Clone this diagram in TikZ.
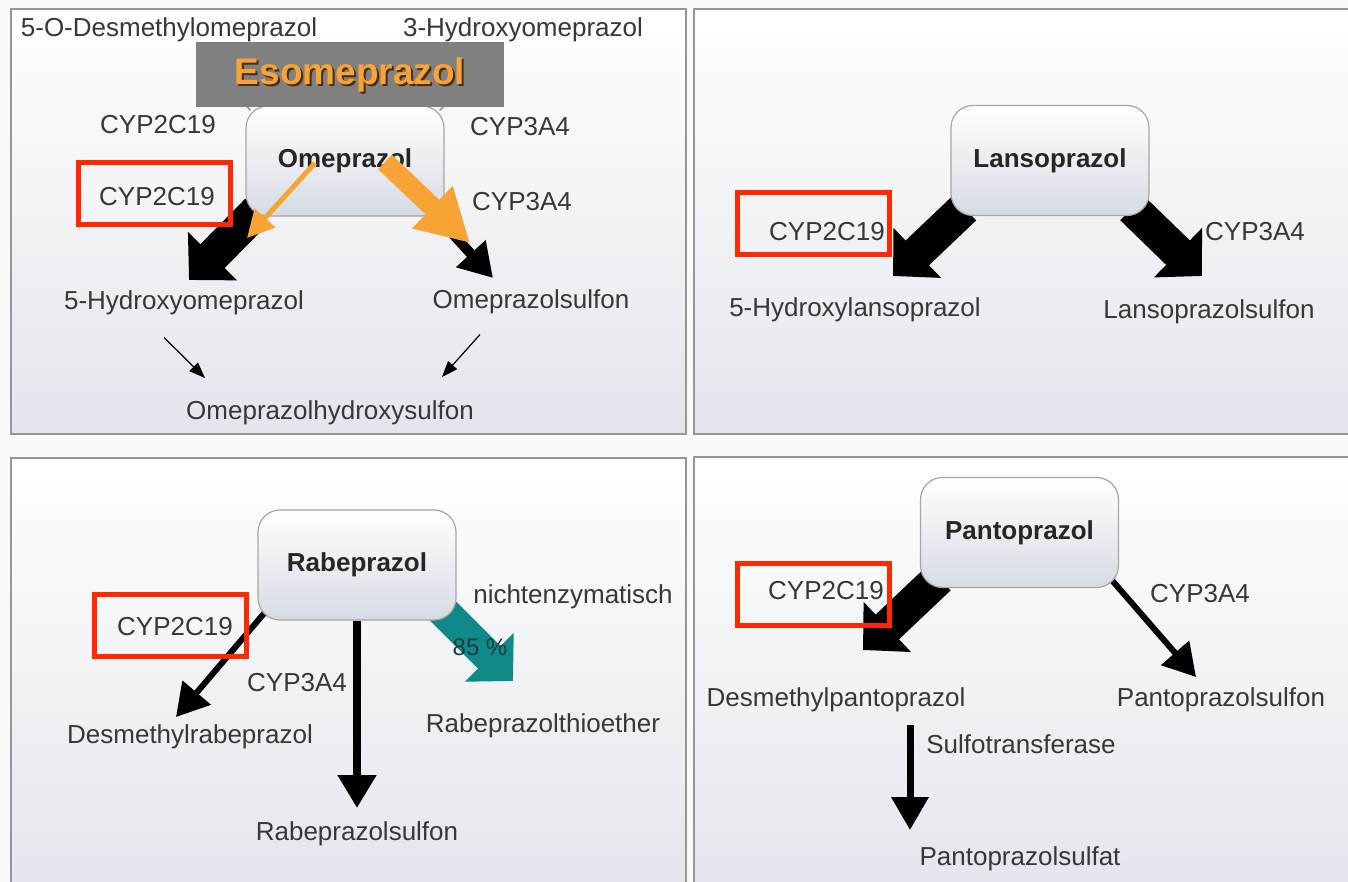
\documentclass[tikz,border=0pt]{standalone}
\usepackage{fontspec}
\setmainfont{Liberation Sans}
\usetikzlibrary{arrows.meta}
\definecolor{pagebg}{RGB}{250,250,250}
\definecolor{panelbot}{RGB}{226,230,236}
\definecolor{panelline}{RGB}{150,150,150}
\definecolor{txtgray}{RGB}{55,55,55}
\definecolor{boxbot}{RGB}{214,219,227}
\definecolor{cypred}{RGB}{255,40,0}
\definecolor{esogray}{RGB}{128,128,128}
\definecolor{esoorange}{RGB}{248,164,52}
\definecolor{esoshadow}{RGB}{70,45,20}
\definecolor{nonenz}{RGB}{16,138,136}
\definecolor{nonenztext}{RGB}{20,60,60}

\pgfdeclarelayer{panels}
\pgfdeclarelayer{under}
\pgfsetlayers{panels,under,main}

\tikzset{
	panel/.style={draw=panelline, line width=0.8pt, top color=white, bottom color=panelbot},
	lbl/.style={text=txtgray, inner sep=1pt, font=\fontsize{13}{15}\selectfont},
	drug/.style={draw=gray!70, line width=0.6pt, rounded corners=11pt, top color=white, bottom color=boxbot,
		minimum width=99pt, minimum height=55pt, text=black!85, font=\fontsize{13}{15}\selectfont\bfseries},
	redbox/.style={draw=cypred, line width=2.5pt, minimum width=76pt, minimum height=31pt, inner sep=0pt},
	esobox/.style={fill=esogray, minimum width=154pt, minimum height=32.5pt, inner sep=0pt},
	esotext/.style={text=esoorange, inner sep=0pt, font=\fontsize{18.5}{20}\selectfont\bfseries},
	fatarrow/.style={line width=17pt, -{Triangle[length=16.75pt, width=33.5pt]}},
	medarrow/.style={line width=3pt, -{Triangle[length=16pt, width=18pt]}},
	thinarrow/.style={line width=0.6pt, -{Triangle[length=8pt, width=6pt]}},
}

\begin{document}
\begin{tikzpicture}[x=0.5pt, y=-0.5pt]
	\useasboundingbox (0,0) rectangle (1348,882);
	\begin{pgfonlayer}{panels}
		\fill[pagebg] (0,0) rectangle (1348,882);
		\foreach \xa/\ya/\xb/\yb in {11/9/686/434, 694/9/1362/434, 11/458/686/896, 694/457/1362/896}
			\draw[panel] (\xa,\ya) rectangle (\xb,\yb);
	\end{pgfonlayer}

	% Omeprazol / Esomeprazol
	\node[lbl] (desm-top) at (169,30) {5-O-Desmethylomeprazol};
	\node[lbl] (hyd3-top) at (523,30) {3-Hydroxyomeprazol};
	\node[drug] (ome-box) at (345,161) {Omeprazol};
	\node[lbl] (ome-cyp2c19-a) at (158,125) {CYP2C19};
	\node[lbl] (ome-cyp2c19-b) at (157,197) {CYP2C19};
	\node[redbox] (ome-red) at (154,193.5) {};
	\node[lbl] (ome-cyp3a4-a) at (520,127) {CYP3A4};
	\node[lbl] (ome-cyp3a4-b) at (522,202) {CYP3A4};
	\node[lbl] (ome-hydroxy) at (184,303) {5-Hydroxyomeprazol};
	\node[lbl] (ome-sulfon) at (531,302) {Omeprazolsulfon};
	\node[lbl] (ome-hydsulf) at (330,413) {Omeprazolhydroxysulfon};
	\coordinate (ome-top-l) at (205,60);
	\coordinate (ome-top-r) at (490,60);
	\coordinate (ome-tip-1) at (189,280);
	\coordinate (ome-tip-2) at (493,278);
	\coordinate (ome-tip-3) at (205,378);
	\coordinate (ome-tip-4) at (442,377);
	\coordinate (eso-tip-1) at (247,238);
	\coordinate (eso-tip-2) at (470,243);
	\begin{pgfonlayer}{under}
		\draw[line width=0.6pt, gray] ([shift={(5,5)}]ome-box.north west) -- (ome-top-l);
		\draw[line width=0.6pt, gray] ([shift={(-5,5)}]ome-box.north east) -- (ome-top-r);
		\draw[fatarrow] ([shift={(12,-6)}]ome-box.south west) -- (ome-tip-1);
		\draw[line width=5pt, -{Triangle[length=16.5pt, width=19pt]}] ([shift={(-15,-8)}]ome-box.south east) -- (ome-tip-2);
	\end{pgfonlayer}
	\draw[thinarrow] ([shift={(-20,20)}]ome-hydroxy.south) -- (ome-tip-3);
	\draw[thinarrow] ([shift={(-51,18)}]ome-sulfon.south) -- (ome-tip-4);
	\node[esobox] (eso-box) at (350,74.5) {};
	\node[esotext, text=esoshadow] (eso-shadow) at (352,77) {Esomeprazol};
	\node[esotext] (eso-text) at (350,75) {Esomeprazol};
	\draw[esoorange, line width=2.5pt, -{Triangle[length=13.5pt, width=13.5pt]}] ([shift={(-30,2)}]ome-box.center) -- (eso-tip-1);
	\draw[esoorange, line width=10pt, -{Triangle[length=26pt, width=27.5pt]}] ([shift={(40,1)}]ome-box.center) -- (eso-tip-2);

	% Lansoprazol
	\node[drug] (lan-box) at (1050,160.5) {Lansoprazol};
	\node[redbox] (lan-red) at (813,223.5) {};
	\node[lbl] (lan-cyp2c19) at (827,232) {CYP2C19};
	\node[lbl] (lan-cyp3a4) at (1255,232) {CYP3A4};
	\node[lbl] (lan-hydroxy) at (855,310) {5-Hydroxylansoprazol};
	\node[lbl] (lan-sulfon) at (1209,312) {Lansoprazolsulfon};
	\coordinate (lan-tip-1) at (893,276);
	\coordinate (lan-tip-2) at (1202,276);
	\begin{pgfonlayer}{under}
		\draw[fatarrow] ([shift={(14,-8)}]lan-box.south west) -- (lan-tip-1);
		\draw[fatarrow] ([shift={(-17.5,-8)}]lan-box.south east) -- (lan-tip-2);
	\end{pgfonlayer}

	% Rabeprazol
	\node[drug] (rab-box) at (357,565) {Rabeprazol};
	\node[redbox] (rab-red) at (170,625.5) {};
	\node[lbl] (rab-cyp2c19) at (175,627) {CYP2C19};
	\node[lbl] (rab-cyp3a4) at (297,683) {CYP3A4};
	\node[lbl] (rab-nonenz) at (573,597) {nichtenzymatisch};
	\node[lbl] (rab-desmethyl) at (190,737) {Desmethylrabeprazol};
	\node[lbl] (rab-thioether) at (543,726) {Rabeprazolthioether};
	\node[lbl] (rab-sulfon) at (357,834) {Rabeprazolsulfon};
	\coordinate (rab-tip-1) at (176,717);
	\coordinate (rab-tip-2) at (357,808);
	\coordinate (rab-tip-3) at (513,681);
	\begin{pgfonlayer}{under}
		\draw[medarrow] ([shift={(9,-10)}]rab-box.south west) -- (rab-tip-1);
		\draw[line width=4pt, -{Triangle[length=16.5pt, width=18.5pt]}] (rab-box.south) -- (rab-tip-2);
		\draw[fatarrow, nonenz, line width=16pt] ([shift={(-18,-14)}]rab-box.south east) -- (rab-tip-3);
	\end{pgfonlayer}
	\node[lbl, text=nonenztext, font=\fontsize{12}{14}\selectfont] (rab-pct) at (480,647) {85 \%};

	% Pantoprazol
	\node[drug] (pan-box) at (1019.5,532.5) {Pantoprazol};
	\node[redbox] (pan-red) at (813,594.5) {};
	\node[lbl] (pan-cyp2c19) at (826,591) {CYP2C19};
	\node[lbl] (pan-cyp3a4) at (1200,594) {CYP3A4};
	\node[lbl] (pan-desmethyl) at (836,700) {Desmethylpantoprazol};
	\node[lbl] (pan-sulfon) at (1221,700) {Pantoprazolsulfon};
	\node[lbl] (pan-sulfotr) at (1021,744) {Sulfotransferase};
	\node[lbl] (pan-sulfat) at (1020,859) {Pantoprazolsulfat};
	\coordinate (pan-tip-1) at (863,650);
	\coordinate (pan-tip-2) at (1196,677);
	\coordinate (pan-tip-3) at (910,830);
	\begin{pgfonlayer}{under}
		\draw[fatarrow] ([shift={(19,-10)}]pan-box.south west) -- (pan-tip-1);
		\draw[medarrow] ([shift={(-9,-10)}]pan-box.south east) -- (pan-tip-2);
	\end{pgfonlayer}
	\draw[line width=3.5pt, -{Triangle[length=16.5pt, width=18pt]}] (pan-tip-3 |- pan-desmethyl.south) ++(0,10) -- (pan-tip-3);
\end{tikzpicture}
\end{document}
